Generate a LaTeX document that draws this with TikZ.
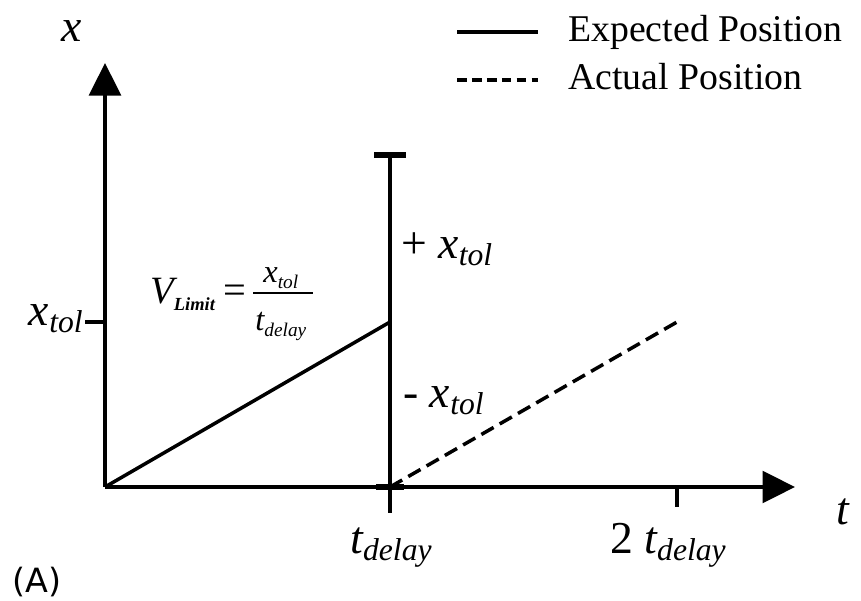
\documentclass[tikz,border=0pt]{standalone}
\usepackage{fontspec}
\setmainfont{Liberation Serif}
\newfontfamily\tagfont{DejaVu Sans}
\usetikzlibrary{arrows.meta}

% symbol with a lowered subscript
\newcommand{\axsym}[2]{#1\raisebox{-4pt}{\fontsize{18}{18}\selectfont #2}}
\newcommand{\frsym}[2]{#1\raisebox{-3.5pt}{\fontsize{11}{11}\selectfont #2}}

\begin{document}
\begin{tikzpicture}[
    x=0.02cm, y=-0.02cm,
    axis/.style={line width=2.3pt, -{Triangle[length=18.5pt, width=18pt]}},
    expected/.style={line width=2pt},
    actual/.style={line width=2pt, dash pattern=on 8pt off 4pt},
    legend dash/.style={line width=1.8pt, dash pattern=on 5.5pt off 3pt},
    capbar/.style={line width=3.4pt},
    tickmark/.style={line width=2.2pt},
    axis text/.style={inner sep=0pt, font=\fontsize{26}{26}\selectfont\itshape},
    frac text/.style={inner sep=0pt, font=\fontsize{18.5}{18.5}\selectfont\itshape},
    legend text/.style={inner sep=0pt, anchor=base west, font=\fontsize{21.5}{21.5}\selectfont}
]
\useasboundingbox (0,0) rectangle (861,601);

% Points
\coordinate (O) at (105,487);
\coordinate (ytip) at (105,63);
\coordinate (xtip) at (795,487);
\coordinate (Dtop) at (390,155);
\coordinate (Dmid) at (390,322);
\coordinate (Daxis) at (390,487);
\coordinate (Dbot) at (390,513);
\coordinate (capL) at (374,155);
\coordinate (capR) at (406,155);
\coordinate (baseL) at (376,487);
\coordinate (baseR) at (404,487);
\coordinate (Aend) at (677,322);
\coordinate (T2) at (677,487);
\coordinate (T2bot) at (677,507);
\coordinate (Xtick) at (85,322);
\coordinate (Xaxis) at (105,322);

% Axes
\draw[axis] (O) -- (ytip);
\draw[axis] (O) -- (xtip);
\draw[tickmark] (Xtick) -- (Xaxis);
\draw[tickmark] (T2) -- (T2bot);

% Tolerance band at t_delay
\draw[tickmark] (Dtop) -- (Dbot);
\draw[capbar] (capL) -- (capR);
\draw[capbar] (baseL) -- (baseR);

% Positions
\draw[expected] (O) -- (Dmid);
\draw[actual] (Daxis) -- (Aend);

% Axis labels
\node[axis text, anchor=base] (xlab) at (72,42) {x};
\node[axis text, anchor=base] (tlab) at (843,524) {t};
\node[axis text, anchor=base] (td1) at (391,553) {\axsym{t}{delay}};
\node[axis text, anchor=base] (td2) at (668,553) {\upshape 2 \itshape\axsym{t}{delay}};
\node[axis text, anchor=base east] (xtl) at (83,325) {\axsym{x}{tol}};
\node[axis text, anchor=base west] (plus) at (401,258) {\upshape + \itshape\axsym{x}{tol}};
\node[axis text, anchor=base west] (minus) at (403,407) {\upshape - \itshape\axsym{x}{tol}};

% V_Limit
\node[inner sep=0pt, anchor=base west, font=\fontsize{22}{22}\selectfont\itshape] (vlim) at (150,303)
    {V\raisebox{-4pt}{\fontsize{10.5}{10.5}\selectfont\bfseries Limit}};
\node[inner sep=0pt, anchor=base west, font=\fontsize{23}{23}\selectfont] (eq) at (223,303) {=};
\coordinate (barL) at (253,293);
\coordinate (barR) at (313,293);
\draw[line width=1.4pt] (barL) -- (barR);
\node[frac text, anchor=base west] (num) at (263,282) {\frsym{x}{tol}};
\node[frac text, anchor=base west] (den) at (255,330) {\frsym{t}{delay}};

% Legend
\coordinate (l1a) at (457,32);
\coordinate (l1b) at (538,32);
\coordinate (l2a) at (457,80);
\coordinate (l2b) at (538,80);
\draw[expected] (l1a) -- (l1b);
\draw[legend dash] (l2a) -- (l2b);
\node[legend text] (leg1) at (568,42) {Expected Position};
\node[legend text] (leg2) at (568,90) {Actual Position};

% Panel tag
\node[inner sep=0pt, anchor=base west, font=\tagfont\fontsize{19}{19}\selectfont] (tag) at (12,592) {(A)};

\end{tikzpicture}
\end{document}
